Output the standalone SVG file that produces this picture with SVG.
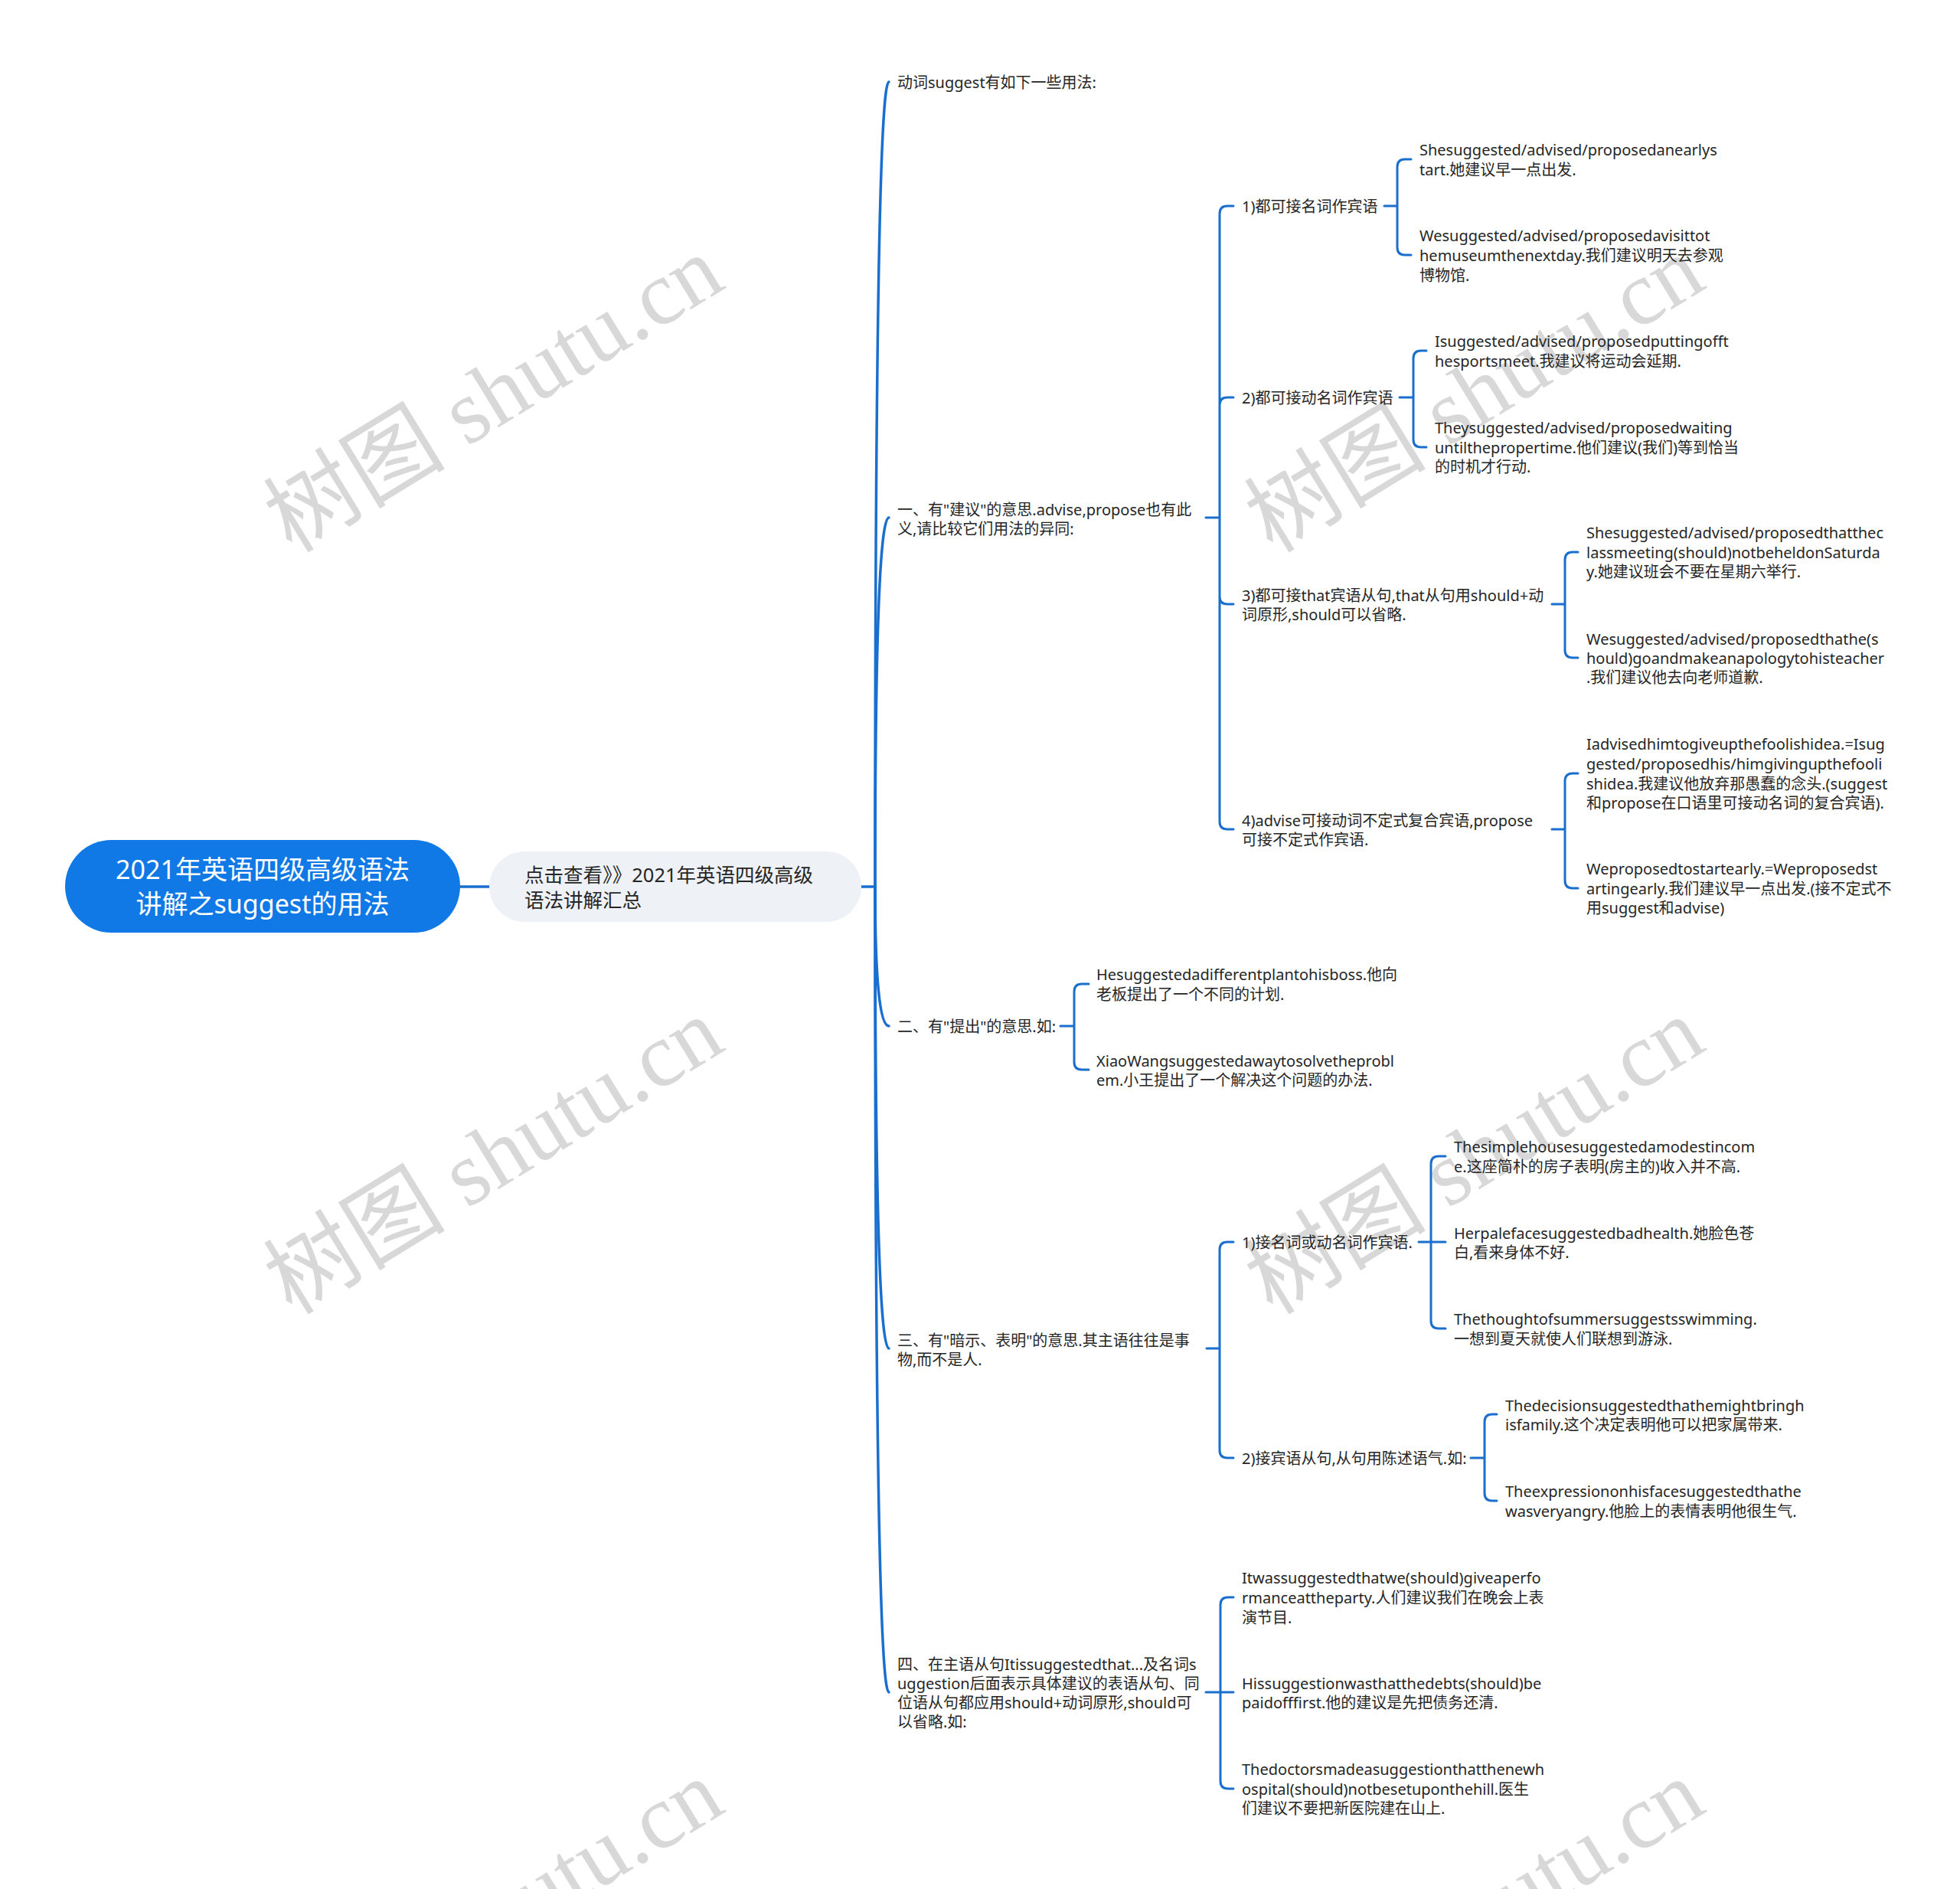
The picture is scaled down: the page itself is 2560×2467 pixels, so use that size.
<svg xmlns="http://www.w3.org/2000/svg" width="2560" height="2467" viewBox="0 0 2560 2467">
<style>
.t{font-family:"Noto Sans","Noto Sans CJK SC",sans-serif;font-size:20px;fill:#262626;dominant-baseline:central}
.root{font-family:"Noto Sans","Noto Sans CJK SC",sans-serif;font-size:34px;fill:#ffffff;dominant-baseline:central;text-anchor:middle}
.sub{font-family:"Noto Sans","Noto Sans CJK SC",sans-serif;font-size:25.5px;fill:#262626;dominant-baseline:central}
.wm{font-family:"Liberation Serif","Noto Sans CJK SC",serif;font-size:119px;fill:#d8d8d8;dominant-baseline:central;text-anchor:middle}
.ln{fill:none;stroke:#1a6fce;stroke-width:3;stroke-linecap:round;stroke-linejoin:round}
.ln2{fill:none;stroke:#1a6fce;stroke-width:3.5;stroke-linecap:round}
</style>
<rect width="2560" height="2467" fill="#ffffff"/>
<g id="watermarks">
<text class="wm" transform="translate(645,515) rotate(-31.5)">树图 shutu.cn</text>
<text class="wm" transform="translate(1926,515) rotate(-31.5)">树图 shutu.cn</text>
<text class="wm" transform="translate(645,1510) rotate(-31.5)">树图 shutu.cn</text>
<text class="wm" transform="translate(1926,1510) rotate(-31.5)">树图 shutu.cn</text>
<text class="wm" transform="translate(645,2505) rotate(-31.5)">树图 shutu.cn</text>
<text class="wm" transform="translate(1926,2505) rotate(-31.5)">树图 shutu.cn</text>
</g>
<g id="connectors">
<path class="ln2" d="M601 1158H639"/>
<path class="ln2" d="M1125 1158H1143"/>
<path class="ln2" d="M1143 1158Q1143 107 1161 107"/>
<path class="ln2" d="M1143 1158Q1143 676 1161 676"/>
<path class="ln2" d="M1143 1158Q1143 1340 1161 1340"/>
<path class="ln2" d="M1143 1158Q1143 1761 1161 1761"/>
<path class="ln2" d="M1143 1158Q1143 2210 1161 2210"/>
<path class="ln" d="M1575 676H1593M1593 676V279Q1593 269 1603 269H1611M1593 676V529Q1593 519 1603 519H1611M1593 676V779Q1593 789 1603 789H1611M1593 676V1073Q1593 1083 1603 1083H1611"/>
<path class="ln" d="M1808 269H1825M1825 269V218Q1825 208 1835 208H1843M1825 269V323Q1825 333 1835 333H1843"/>
<path class="ln" d="M1828 519H1846M1846 519V468Q1846 458 1856 458H1863M1846 519V574Q1846 584 1856 584H1863"/>
<path class="ln" d="M2027 789H2044M2044 789V731Q2044 721 2054 721H2061M2044 789V849Q2044 859 2054 859H2061"/>
<path class="ln" d="M2027 1083H2044M2044 1083V1020Q2044 1010 2054 1010H2061M2044 1083V1150Q2044 1160 2054 1160H2061"/>
<path class="ln" d="M1385 1340H1403M1403 1340V1295Q1403 1285 1413 1285H1422M1403 1340V1387Q1403 1397 1413 1397H1422"/>
<path class="ln" d="M1576 1761H1593M1593 1761V1632Q1593 1622 1603 1622H1611M1593 1761V1894Q1593 1904 1603 1904H1611"/>
<path class="ln" d="M1853 1622H1869M1869 1622V1520Q1869 1510 1879 1510H1888M1869 1622H1888M1869 1622V1725Q1869 1735 1879 1735H1888"/>
<path class="ln" d="M1921 1904H1939M1939 1904V1857Q1939 1847 1949 1847H1955M1939 1904V1950Q1939 1960 1949 1960H1955"/>
<path class="ln" d="M1575 2210H1594M1594 2210V2096Q1594 2086 1604 2086H1611M1594 2210H1611M1594 2210V2326Q1594 2336 1604 2336H1611"/>
</g>
<g id="root">
<rect x="85" y="1097" width="516" height="121" rx="60.5" fill="#1079e6"/>
<text class="root"><tspan x="343" y="1135">2021年英语四级高级语法</tspan><tspan x="343" y="1180">讲解之suggest的用法</tspan></text>
</g>
<g id="n-sub">
<rect x="639" y="1112" width="486" height="92" rx="46" fill="#eef1f5"/>
<text class="sub"><tspan x="685" y="1142">点击查看》》2021年英语四级高级</tspan><tspan x="685" y="1175">语法讲解汇总</tspan></text>
</g>
<g id="n-a"><text class="t"><tspan x="1172" y="107">动词suggest有如下一些用法:</tspan></text></g>
<g id="n-b"><text class="t"><tspan x="1172" y="665">一、有"建议"的意思.advise,propose也有此</tspan><tspan x="1172" y="690">义,请比较它们用法的异同:</tspan></text></g>
<g id="n-b1"><text class="t"><tspan x="1622" y="269">1)都可接名词作宾语</tspan></text></g>
<g id="n-b1a"><text class="t"><tspan x="1854" y="195">Shesuggested/advised/proposedanearlys</tspan><tspan x="1854" y="221">tart.她建议早一点出发.</tspan></text></g>
<g id="n-b1b"><text class="t"><tspan x="1854" y="307">Wesuggested/advised/proposedavisittot</tspan><tspan x="1854" y="333">hemuseumthenextday.我们建议明天去参观</tspan><tspan x="1854" y="359">博物馆.</tspan></text></g>
<g id="n-b2"><text class="t"><tspan x="1622" y="519">2)都可接动名词作宾语</tspan></text></g>
<g id="n-b2a"><text class="t"><tspan x="1874" y="445">Isuggested/advised/proposedputtingofft</tspan><tspan x="1874" y="471">hesportsmeet.我建议将运动会延期.</tspan></text></g>
<g id="n-b2b"><text class="t"><tspan x="1874" y="558">Theysuggested/advised/proposedwaiting</tspan><tspan x="1874" y="584">untilthepropertime.他们建议(我们)等到恰当</tspan><tspan x="1874" y="609">的时机才行动.</tspan></text></g>
<g id="n-b3"><text class="t"><tspan x="1622" y="777">3)都可接that宾语从句,that从句用should+动</tspan><tspan x="1622" y="802">词原形,should可以省略.</tspan></text></g>
<g id="n-b3a"><text class="t"><tspan x="2072" y="695">Shesuggested/advised/proposedthatthec</tspan><tspan x="2072" y="721">lassmeeting(should)notbeheldonSaturda</tspan><tspan x="2072" y="746">y.她建议班会不要在星期六举行.</tspan></text></g>
<g id="n-b3b"><text class="t"><tspan x="2072" y="834">Wesuggested/advised/proposedthathe(s</tspan><tspan x="2072" y="859">hould)goandmakeanapologytohisteacher</tspan><tspan x="2072" y="884">.我们建议他去向老师道歉.</tspan></text></g>
<g id="n-b4"><text class="t"><tspan x="1622" y="1071">4)advise可接动词不定式复合宾语,propose</tspan><tspan x="1622" y="1096">可接不定式作宾语.</tspan></text></g>
<g id="n-b4a"><text class="t"><tspan x="2072" y="971">Iadvisedhimtogiveupthefoolishidea.=Isug</tspan><tspan x="2072" y="997">gested/proposedhis/himgivingupthefooli</tspan><tspan x="2072" y="1023">shidea.我建议他放弃那愚蠢的念头.(suggest</tspan><tspan x="2072" y="1048">和propose在口语里可接动名词的复合宾语).</tspan></text></g>
<g id="n-b4b"><text class="t"><tspan x="2072" y="1134">Weproposedtostartearly.=Weproposedst</tspan><tspan x="2072" y="1160">artingearly.我们建议早一点出发.(接不定式不</tspan><tspan x="2072" y="1185">用suggest和advise)</tspan></text></g>
<g id="n-c"><text class="t"><tspan x="1172" y="1340">二、有"提出"的意思.如:</tspan></text></g>
<g id="n-c1"><text class="t"><tspan x="1432" y="1272">Hesuggestedadifferentplantohisboss.他向</tspan><tspan x="1432" y="1298">老板提出了一个不同的计划.</tspan></text></g>
<g id="n-c2"><text class="t"><tspan x="1432" y="1385">XiaoWangsuggestedawaytosolvetheprobl</tspan><tspan x="1432" y="1410">em.小王提出了一个解决这个问题的办法.</tspan></text></g>
<g id="n-d"><text class="t"><tspan x="1172" y="1750">三、有"暗示、表明"的意思.其主语往往是事</tspan><tspan x="1172" y="1775">物,而不是人.</tspan></text></g>
<g id="n-d1"><text class="t"><tspan x="1622" y="1622">1)接名词或动名词作宾语.</tspan></text></g>
<g id="n-d1a"><text class="t"><tspan x="1899" y="1497">Thesimplehousesuggestedamodestincom</tspan><tspan x="1899" y="1523">e.这座简朴的房子表明(房主的)收入并不高.</tspan></text></g>
<g id="n-d1b"><text class="t"><tspan x="1899" y="1610">Herpalefacesuggestedbadhealth.她脸色苍</tspan><tspan x="1899" y="1635">白,看来身体不好.</tspan></text></g>
<g id="n-d1c"><text class="t"><tspan x="1899" y="1722">Thethoughtofsummersuggestsswimming.</tspan><tspan x="1899" y="1748">一想到夏天就使人们联想到游泳.</tspan></text></g>
<g id="n-d2"><text class="t"><tspan x="1622" y="1904">2)接宾语从句,从句用陈述语气.如:</tspan></text></g>
<g id="n-d2a"><text class="t"><tspan x="1966" y="1835">Thedecisionsuggestedthathemightbringh</tspan><tspan x="1966" y="1860">isfamily.这个决定表明他可以把家属带来.</tspan></text></g>
<g id="n-d2b"><text class="t"><tspan x="1966" y="1947">Theexpressiononhisfacesuggestedthathe</tspan><tspan x="1966" y="1973">wasveryangry.他脸上的表情表明他很生气.</tspan></text></g>
<g id="n-e"><text class="t"><tspan x="1172" y="2173">四、在主语从句Itissuggestedthat...及名词s</tspan><tspan x="1172" y="2198">uggestion后面表示具体建议的表语从句、同</tspan><tspan x="1172" y="2223">位语从句都应用should+动词原形,should可</tspan><tspan x="1172" y="2248">以省略.如:</tspan></text></g>
<g id="n-e1"><text class="t"><tspan x="1622" y="2060">Itwassuggestedthatwe(should)giveaperfo</tspan><tspan x="1622" y="2086">rmanceattheparty.人们建议我们在晚会上表</tspan><tspan x="1622" y="2112">演节目.</tspan></text></g>
<g id="n-e2"><text class="t"><tspan x="1622" y="2198">Hissuggestionwasthatthedebts(should)be</tspan><tspan x="1622" y="2223">paidofffirst.他的建议是先把债务还清.</tspan></text></g>
<g id="n-e3"><text class="t"><tspan x="1622" y="2310">Thedoctorsmadeasuggestionthatthenewh</tspan><tspan x="1622" y="2336">ospital(should)notbesetuponthehill.医生</tspan><tspan x="1622" y="2361">们建议不要把新医院建在山上.</tspan></text></g>
</svg>
